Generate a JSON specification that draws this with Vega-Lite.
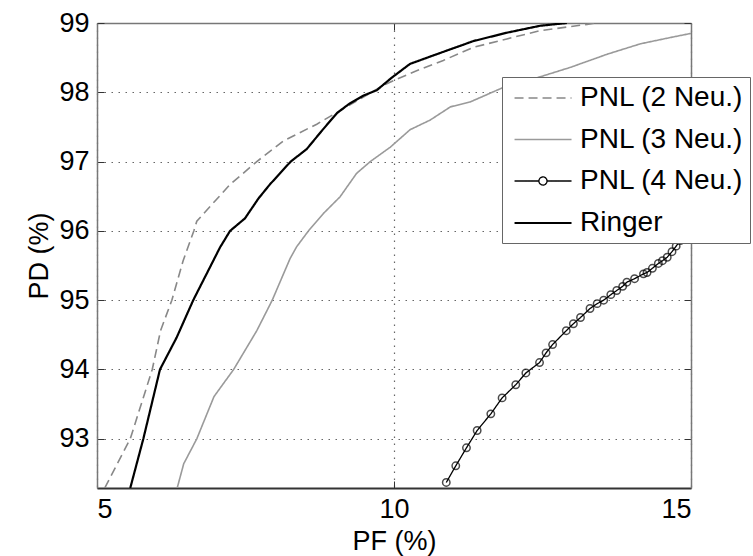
{
  "$schema": "https://vega.github.io/schema/vega-lite/v6.json",
  "width": 594,
  "height": 465,
  "autosize": {"type": "none"},
  "padding": {"left": 97, "top": 23, "right": 62, "bottom": 68},
  "background": "white",
  "config": {
    "view": {"stroke": null},
    "font": "Liberation Sans",
    "axis": {
      "labelFont": "Liberation Sans",
      "labelFontSize": 27,
      "labelColor": "black",
      "titleFont": "Liberation Sans",
      "titleFontSize": 27,
      "titleFontWeight": "normal",
      "titleColor": "black",
      "domainColor": "#555",
      "domainWidth": 1.5,
      "tickColor": "#333",
      "tickSize": -7,
      "tickWidth": 1,
      "gridColor": "#666",
      "gridDash": [1.5, 5.5],
      "gridWidth": 1.2
    }
  },
  "data": {
    "values": [
      {"series": "PNL (2 Neu.)", "pf": 5.13, "pd": 92.29},
      {"series": "PNL (2 Neu.)", "pf": 5.56, "pd": 93.0},
      {"series": "PNL (2 Neu.)", "pf": 5.93, "pd": 94.0},
      {"series": "PNL (2 Neu.)", "pf": 6.07, "pd": 94.56},
      {"series": "PNL (2 Neu.)", "pf": 6.26, "pd": 95.0},
      {"series": "PNL (2 Neu.)", "pf": 6.45, "pd": 95.57},
      {"series": "PNL (2 Neu.)", "pf": 6.63, "pd": 96.0},
      {"series": "PNL (2 Neu.)", "pf": 6.68, "pd": 96.14},
      {"series": "PNL (2 Neu.)", "pf": 7.24, "pd": 96.67},
      {"series": "PNL (2 Neu.)", "pf": 7.69, "pd": 97.0},
      {"series": "PNL (2 Neu.)", "pf": 8.14, "pd": 97.3},
      {"series": "PNL (2 Neu.)", "pf": 8.7, "pd": 97.54},
      {"series": "PNL (2 Neu.)", "pf": 9.18, "pd": 97.78},
      {"series": "PNL (2 Neu.)", "pf": 9.82, "pd": 98.1},
      {"series": "PNL (2 Neu.)", "pf": 10.05, "pd": 98.19},
      {"series": "PNL (2 Neu.)", "pf": 10.38, "pd": 98.31},
      {"series": "PNL (2 Neu.)", "pf": 10.83, "pd": 98.46},
      {"series": "PNL (2 Neu.)", "pf": 11.34, "pd": 98.65},
      {"series": "PNL (2 Neu.)", "pf": 11.9, "pd": 98.77},
      {"series": "PNL (2 Neu.)", "pf": 12.46, "pd": 98.89},
      {"series": "PNL (2 Neu.)", "pf": 13.25, "pd": 98.98},
      {"series": "PNL (2 Neu.)", "pf": 13.39, "pd": 99.0},

      {"series": "PNL (3 Neu.)", "pf": 6.35, "pd": 92.29},
      {"series": "PNL (3 Neu.)", "pf": 6.46, "pd": 92.64},
      {"series": "PNL (3 Neu.)", "pf": 6.68, "pd": 93.0},
      {"series": "PNL (3 Neu.)", "pf": 6.97, "pd": 93.61},
      {"series": "PNL (3 Neu.)", "pf": 7.3, "pd": 94.0},
      {"series": "PNL (3 Neu.)", "pf": 7.69, "pd": 94.56},
      {"series": "PNL (3 Neu.)", "pf": 7.95, "pd": 95.0},
      {"series": "PNL (3 Neu.)", "pf": 8.25, "pd": 95.6},
      {"series": "PNL (3 Neu.)", "pf": 8.36, "pd": 95.77},
      {"series": "PNL (3 Neu.)", "pf": 8.56, "pd": 96.0},
      {"series": "PNL (3 Neu.)", "pf": 8.81, "pd": 96.25},
      {"series": "PNL (3 Neu.)", "pf": 9.09, "pd": 96.49},
      {"series": "PNL (3 Neu.)", "pf": 9.37, "pd": 96.83},
      {"series": "PNL (3 Neu.)", "pf": 9.6, "pd": 97.0},
      {"series": "PNL (3 Neu.)", "pf": 9.94, "pd": 97.21},
      {"series": "PNL (3 Neu.)", "pf": 10.27, "pd": 97.46},
      {"series": "PNL (3 Neu.)", "pf": 10.61, "pd": 97.6},
      {"series": "PNL (3 Neu.)", "pf": 10.95, "pd": 97.79},
      {"series": "PNL (3 Neu.)", "pf": 11.28, "pd": 97.86},
      {"series": "PNL (3 Neu.)", "pf": 11.84, "pd": 98.07},
      {"series": "PNL (3 Neu.)", "pf": 12.41, "pd": 98.21},
      {"series": "PNL (3 Neu.)", "pf": 12.97, "pd": 98.36},
      {"series": "PNL (3 Neu.)", "pf": 13.59, "pd": 98.55},
      {"series": "PNL (3 Neu.)", "pf": 14.15, "pd": 98.7},
      {"series": "PNL (3 Neu.)", "pf": 14.65, "pd": 98.79},
      {"series": "PNL (3 Neu.)", "pf": 15.0, "pd": 98.85},

      {"series": "PNL (4 Neu.)", "pf": 10.88, "pd": 92.37},
      {"series": "PNL (4 Neu.)", "pf": 11.04, "pd": 92.61},
      {"series": "PNL (4 Neu.)", "pf": 11.22, "pd": 92.87},
      {"series": "PNL (4 Neu.)", "pf": 11.4, "pd": 93.12},
      {"series": "PNL (4 Neu.)", "pf": 11.63, "pd": 93.36},
      {"series": "PNL (4 Neu.)", "pf": 11.82, "pd": 93.59},
      {"series": "PNL (4 Neu.)", "pf": 12.05, "pd": 93.78},
      {"series": "PNL (4 Neu.)", "pf": 12.22, "pd": 93.95},
      {"series": "PNL (4 Neu.)", "pf": 12.45, "pd": 94.1},
      {"series": "PNL (4 Neu.)", "pf": 12.56, "pd": 94.24},
      {"series": "PNL (4 Neu.)", "pf": 12.67, "pd": 94.36},
      {"series": "PNL (4 Neu.)", "pf": 12.9, "pd": 94.56},
      {"series": "PNL (4 Neu.)", "pf": 13.02, "pd": 94.66},
      {"series": "PNL (4 Neu.)", "pf": 13.14, "pd": 94.75},
      {"series": "PNL (4 Neu.)", "pf": 13.3, "pd": 94.88},
      {"series": "PNL (4 Neu.)", "pf": 13.42, "pd": 94.95},
      {"series": "PNL (4 Neu.)", "pf": 13.53, "pd": 95.0},
      {"series": "PNL (4 Neu.)", "pf": 13.65, "pd": 95.08},
      {"series": "PNL (4 Neu.)", "pf": 13.75, "pd": 95.14},
      {"series": "PNL (4 Neu.)", "pf": 13.85, "pd": 95.2},
      {"series": "PNL (4 Neu.)", "pf": 13.92, "pd": 95.26},
      {"series": "PNL (4 Neu.)", "pf": 14.05, "pd": 95.31},
      {"series": "PNL (4 Neu.)", "pf": 14.2, "pd": 95.38},
      {"series": "PNL (4 Neu.)", "pf": 14.26, "pd": 95.4},
      {"series": "PNL (4 Neu.)", "pf": 14.35, "pd": 95.46},
      {"series": "PNL (4 Neu.)", "pf": 14.45, "pd": 95.53},
      {"series": "PNL (4 Neu.)", "pf": 14.52, "pd": 95.57},
      {"series": "PNL (4 Neu.)", "pf": 14.6, "pd": 95.62},
      {"series": "PNL (4 Neu.)", "pf": 14.68, "pd": 95.7},
      {"series": "PNL (4 Neu.)", "pf": 14.75, "pd": 95.78},
      {"series": "PNL (4 Neu.)", "pf": 14.82, "pd": 95.86},
      {"series": "PNL (4 Neu.)", "pf": 14.9, "pd": 95.92},
      {"series": "PNL (4 Neu.)", "pf": 15.0, "pd": 95.98},

      {"series": "Ringer", "pf": 5.56, "pd": 92.29},
      {"series": "Ringer", "pf": 5.78, "pd": 93.0},
      {"series": "Ringer", "pf": 6.06, "pd": 94.0},
      {"series": "Ringer", "pf": 6.34, "pd": 94.46},
      {"series": "Ringer", "pf": 6.62, "pd": 95.0},
      {"series": "Ringer", "pf": 7.07, "pd": 95.76},
      {"series": "Ringer", "pf": 7.24, "pd": 96.0},
      {"series": "Ringer", "pf": 7.49, "pd": 96.18},
      {"series": "Ringer", "pf": 7.72, "pd": 96.47},
      {"series": "Ringer", "pf": 7.91, "pd": 96.67},
      {"series": "Ringer", "pf": 8.26, "pd": 97.0},
      {"series": "Ringer", "pf": 8.53, "pd": 97.18},
      {"series": "Ringer", "pf": 8.78, "pd": 97.44},
      {"series": "Ringer", "pf": 9.04, "pd": 97.7},
      {"series": "Ringer", "pf": 9.24, "pd": 97.83},
      {"series": "Ringer", "pf": 9.48, "pd": 97.95},
      {"series": "Ringer", "pf": 9.71, "pd": 98.03},
      {"series": "Ringer", "pf": 9.96, "pd": 98.21},
      {"series": "Ringer", "pf": 10.27, "pd": 98.41},
      {"series": "Ringer", "pf": 10.72, "pd": 98.55},
      {"series": "Ringer", "pf": 11.34, "pd": 98.74},
      {"series": "Ringer", "pf": 11.9, "pd": 98.86},
      {"series": "Ringer", "pf": 12.46, "pd": 98.96},
      {"series": "Ringer", "pf": 12.91, "pd": 99.0}
    ]
  },
  "layer": [
    {
      "mark": {"type": "line", "clip": true},
      "encoding": {
        "x": {
          "field": "pf", "type": "quantitative",
          "scale": {"domain": [5, 15], "nice": false, "zero": false},
          "axis": {"values": [5, 10, 15], "title": "PF (%)", "grid": true, "labelPadding": 15, "titlePadding": 6, "domainColor": "#333", "domainWidth": 2}
        },
        "y": {
          "field": "pd", "type": "quantitative",
          "scale": {"domain": [92.29, 99], "nice": false, "zero": false},
          "axis": {"values": [93, 94, 95, 96, 97, 98, 99], "title": "PD (%)", "grid": true, "labelPadding": 15, "titlePadding": 5, "domainColor": "#777"}
        },
        "color": {
          "field": "series", "type": "nominal",
          "scale": {"domain": ["PNL (2 Neu.)", "PNL (3 Neu.)", "PNL (4 Neu.)", "Ringer"], "range": ["#888888", "#9a9a9a", "#000000", "#000000"]},
          "legend": {
            "orient": "none", "legendX": 405, "legendY": 54, "title": null,
            "symbolType": "M-0.64,0H3.43", "symbolSize": 784, "symbolStrokeWidth": 1.6, "symbolFillColor": "transparent",
            "labelFont": "Liberation Sans", "labelFontSize": 28, "labelColor": "black", "labelOffset": 41, "labelLimit": 400,
            "rowPadding": 12.5, "padding": 6, "strokeColor": "#666", "fillColor": "white",
            "encode": {"symbols": {"update": {"shape": {"signal": "datum.value === 'PNL (4 Neu.)' ? 'M-0.64,0H1.1M1.68,0H3.43M1.68,0A0.29,0.29,0,1,1,1.1,0A0.29,0.29,0,1,1,1.68,0' : 'M-0.64,0H3.43'"}}}}
          }
        },
        "strokeDash": {
          "field": "series", "type": "nominal",
          "scale": {"domain": ["PNL (2 Neu.)", "PNL (3 Neu.)", "PNL (4 Neu.)", "Ringer"], "range": [[9, 5], [1, 0], [1, 0], [1, 0]]},
          "legend": {
            "orient": "none", "legendX": 405, "legendY": 54, "title": null,
            "symbolType": "M-0.64,0H3.43", "symbolSize": 784, "symbolStrokeWidth": 1.6, "symbolFillColor": "transparent",
            "labelFont": "Liberation Sans", "labelFontSize": 28, "labelColor": "black", "labelOffset": 41, "labelLimit": 400,
            "rowPadding": 12.5, "padding": 6, "strokeColor": "#666", "fillColor": "white",
            "encode": {"symbols": {"update": {"shape": {"signal": "datum.value === 'PNL (4 Neu.)' ? 'M-0.64,0H1.1M1.68,0H3.43M1.68,0A0.29,0.29,0,1,1,1.1,0A0.29,0.29,0,1,1,1.68,0' : 'M-0.64,0H3.43'"}}}}
          }
        },
        "strokeWidth": {
          "field": "series", "type": "nominal",
          "scale": {"type": "ordinal", "domain": ["PNL (2 Neu.)", "PNL (3 Neu.)", "PNL (4 Neu.)", "Ringer"], "range": [1.6, 1.6, 1.3, 2.2]},
          "legend": null
        }
      }
    },
    {
      "transform": [{"filter": "datum.series === 'PNL (4 Neu.)'"}],
      "mark": {"type": "point", "shape": "circle", "filled": false, "size": 55, "stroke": "#000000", "strokeWidth": 1.5, "clip": true},
      "encoding": {
        "x": {
          "field": "pf", "type": "quantitative",
          "scale": {"domain": [5, 15], "nice": false, "zero": false},
          "axis": {"orient": "top", "values": [5, 10, 15], "labels": false, "title": null, "grid": false, "domainColor": "#777"}
        },
        "y": {
          "field": "pd", "type": "quantitative",
          "scale": {"domain": [92.29, 99], "nice": false, "zero": false},
          "axis": {"orient": "right", "values": [93, 94, 95, 96, 97, 98, 99], "labels": false, "title": null, "grid": false, "domainColor": "#777"}
        }
      }
    }
  ],
  "resolve": {"axis": {"x": "independent", "y": "independent"}}
}
